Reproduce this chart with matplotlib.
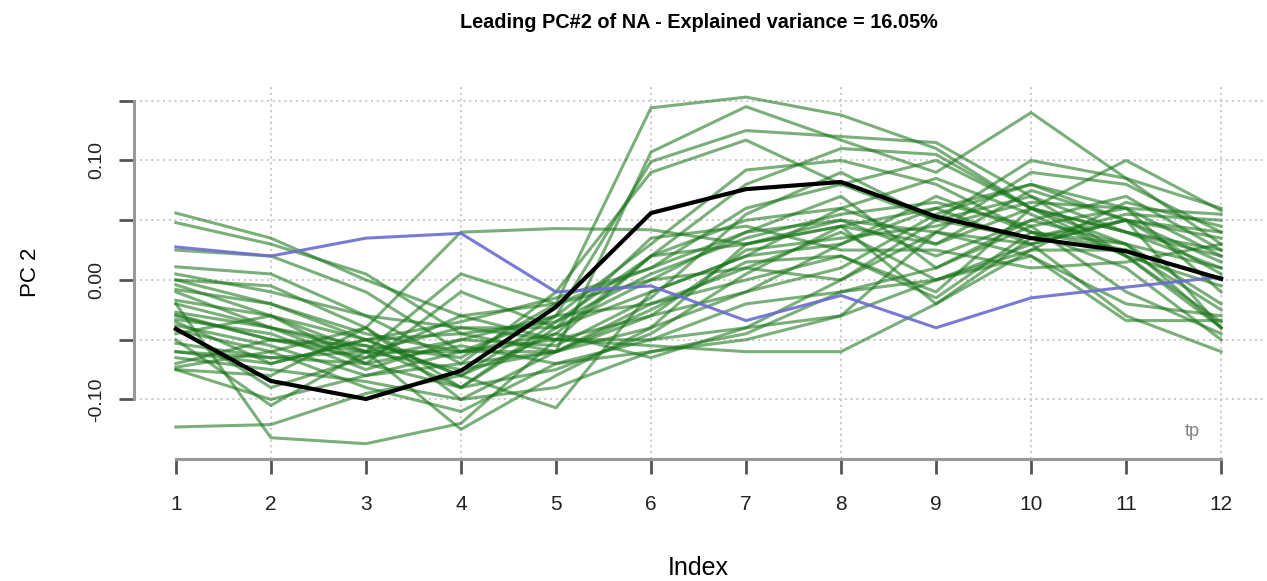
import numpy as np
import matplotlib
matplotlib.use('Agg')
import matplotlib.pyplot as plt

plt.rcParams['font.family'] = ['Liberation Sans', 'DejaVu Sans']

index = np.arange(1, 13)

# leading PC (black) and the reference curve (blue)
mean_pc = [-0.041, -0.0845, -0.0996, -0.076, -0.0226, 0.056, 0.076, 0.082, 0.053, 0.035, 0.024, 0.001]
ref_pc = [0.0276, 0.020, 0.035, 0.039, -0.010, -0.005, -0.034, -0.013, -0.040, -0.015, -0.006, 0.0025]

# individual PCs (green)
members = [
    [0.056, 0.035, 0.000, -0.030, -0.020, 0.144, 0.153, 0.138, 0.110, 0.060, 0.020, -0.035],
    [0.048, 0.030, 0.005, -0.045, -0.060, 0.107, 0.145, 0.117, 0.090, 0.140, 0.085, 0.060],
    [0.025, 0.020, -0.010, -0.060, -0.030, 0.099, 0.125, 0.120, 0.115, 0.070, 0.040, 0.020],
    [0.011, 0.005, -0.030, -0.070, -0.010, 0.090, 0.117, 0.080, 0.050, 0.100, 0.085, 0.030],
    [0.000, -0.005, -0.040, 0.040, 0.043, 0.042, 0.030, 0.045, 0.060, 0.080, 0.060, 0.055],
    [-0.004, -0.030, -0.050, -0.080, -0.030, 0.030, 0.092, 0.100, 0.080, 0.040, 0.030, 0.010],
    [-0.008, -0.020, -0.045, -0.060, -0.050, 0.020, 0.050, 0.060, 0.030, 0.060, 0.100, 0.058],
    [-0.017, -0.030, -0.060, 0.005, -0.020, 0.010, 0.040, 0.050, 0.020, 0.050, 0.030, -0.040],
    [-0.020, -0.040, -0.070, -0.010, -0.040, -0.010, 0.020, 0.030, 0.060, 0.030, 0.050, 0.040],
    [-0.027, -0.040, -0.055, -0.090, -0.040, 0.000, 0.010, 0.040, 0.000, 0.020, -0.020, -0.030],
    [-0.029, -0.050, -0.065, -0.030, -0.050, -0.030, 0.025, 0.035, 0.045, 0.065, 0.060, 0.020],
    [-0.033, -0.045, -0.075, -0.050, -0.030, -0.020, 0.000, 0.020, -0.010, 0.060, 0.040, 0.010],
    [-0.038, -0.055, -0.080, -0.070, -0.060, -0.020, 0.010, 0.000, 0.050, 0.070, 0.020, -0.040],
    [-0.042, -0.060, -0.040, -0.100, -0.060, -0.040, -0.010, 0.030, 0.070, 0.040, 0.010, -0.050],
    [-0.053, -0.065, -0.070, -0.055, -0.070, -0.050, -0.020, -0.010, 0.010, 0.050, 0.070, 0.025],
    [-0.070, -0.050, -0.060, -0.040, -0.050, -0.055, -0.060, -0.060, -0.020, 0.035, 0.050, 0.015],
    [-0.073, -0.060, -0.090, -0.110, -0.070, -0.060, -0.050, -0.030, 0.040, 0.090, 0.080, 0.040],
    [-0.075, -0.100, -0.080, -0.060, -0.045, -0.065, -0.040, -0.030, 0.000, 0.030, -0.030, -0.060],
    [-0.123, -0.121, -0.095, -0.080, -0.107, -0.010, 0.020, 0.060, 0.085, 0.055, 0.020, -0.005],
    [-0.020, -0.132, -0.137, -0.120, -0.050, -0.050, -0.040, 0.000, 0.040, 0.020, -0.034, -0.034],
    [-0.050, -0.105, -0.060, -0.125, -0.080, -0.040, 0.030, 0.050, 0.040, 0.030, 0.050, 0.005],
    [-0.060, -0.070, -0.050, -0.035, -0.015, 0.010, 0.060, 0.080, 0.100, 0.060, 0.030, -0.020],
    [-0.010, -0.040, -0.060, -0.075, -0.060, -0.030, -0.010, 0.010, 0.055, 0.080, 0.050, 0.035],
    [0.000, -0.020, -0.050, -0.080, -0.045, 0.020, 0.080, 0.110, 0.105, 0.060, 0.040, 0.025],
    [-0.045, -0.030, -0.070, -0.090, -0.075, -0.045, 0.005, 0.045, 0.030, 0.075, 0.050, -0.040],
    [-0.030, -0.050, -0.055, -0.065, -0.020, 0.000, 0.040, 0.070, 0.010, 0.045, 0.060, -0.010],
    [-0.035, -0.070, -0.050, -0.045, -0.035, 0.020, 0.030, 0.045, -0.020, 0.025, 0.065, 0.045],
    [-0.060, -0.065, -0.060, -0.060, -0.060, -0.025, 0.015, 0.020, -0.015, 0.040, 0.025, 0.000],
    [-0.075, -0.080, -0.040, -0.090, -0.035, 0.005, 0.035, 0.055, 0.065, 0.045, -0.010, -0.045],
    [-0.040, -0.090, -0.065, -0.050, -0.055, -0.015, 0.055, 0.090, 0.050, 0.035, 0.055, 0.050],
    [0.005, -0.010, -0.030, -0.040, -0.040, 0.035, 0.045, 0.025, 0.025, 0.010, 0.015, 0.030],
    [-0.065, -0.075, -0.085, -0.100, -0.090, -0.060, -0.045, -0.010, 0.000, 0.025, 0.025, -0.025],
]

y_ticks = [-0.10, -0.05, 0.00, 0.05, 0.10, 0.15]
y_labels = ['-0.10', '', '0.00', '', '0.10', '']
title = "Leading PC#2 of NA - Explained variance = 16.05%"

fig = plt.figure(figsize=(12.67, 5.81), dpi=100)
ax = fig.add_axes([0.1058, 0.21, 0.891, 0.642])

# dotted grid
grid_kw = dict(color='#c8c8c8', lw=1.3, ls=(0, (1.2, 2.0)), zorder=0)
for yv in y_ticks:
    ax.axhline(yv, **grid_kw)
for xv in range(2, 13, 2):
    ax.axvline(xv, **grid_kw)

for m in members:
    ax.plot(index, m, color='#1a751a', alpha=0.58, lw=2.2, zorder=2)
ax.plot(index, ref_pc, color='#6b6bd2', alpha=0.9, lw=2.2, zorder=3)
ax.plot(index, mean_pc, color='black', lw=3, zorder=4)

ax.text(11.7, -0.127, 'tp', color='#808080', fontsize=13, ha='center', va='center')

ax.set_xlim(0.56, 12.44)
ax.set_ylim(-0.1498, 0.1623)

for s in ['top', 'right']:
    ax.spines[s].set_visible(False)
ax.spines['left'].set_bounds(-0.10, 0.15)
ax.spines['bottom'].set_bounds(1, 12)
for s in ['left', 'bottom']:
    ax.spines[s].set_color('#999999')
    ax.spines[s].set_linewidth(2.2)

ax.set_xticks(index)
ax.set_xticklabels([str(i) for i in index])
ax.set_yticks(y_ticks)
ax.set_yticklabels(y_labels, rotation=90, va='center')
ax.tick_params(axis='both', direction='out', length=11, width=2, color='#555555',
               labelcolor='#222222')
ax.tick_params(axis='x', pad=15, labelsize=15)
ax.tick_params(axis='y', pad=10, labelsize=14)

ax.set_xlabel('Index', fontsize=18, labelpad=30)
ax.set_ylabel('PC 2', fontsize=16, labelpad=34)

# title centred over the plot region, as R does
ax.text(0.5, 0.962, title, transform=fig.transFigure, ha='center', va='center',
        fontsize=14.3, fontweight='bold')
ax_box = ax.get_position()
ax.texts[-1].set_x((ax_box.x0 + ax_box.x1) / 2)

fig.savefig('out.png', dpi=100)
